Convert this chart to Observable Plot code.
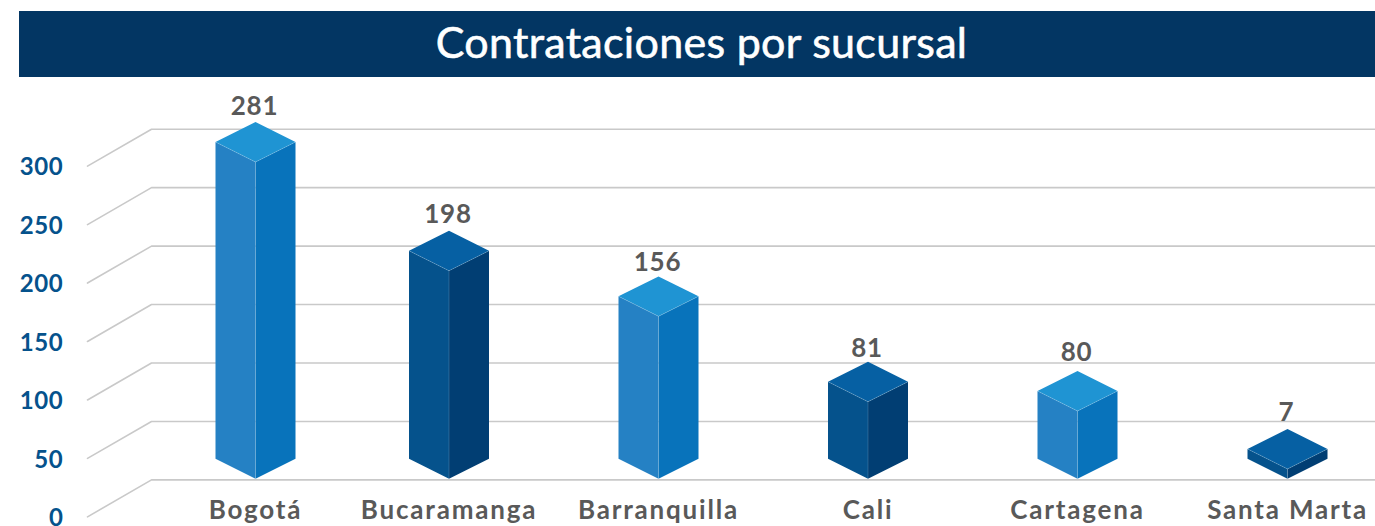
<!DOCTYPE html>
<html>
<head>
<meta charset="utf-8">
<script src="https://cdn.jsdelivr.net/npm/d3@7"></script>
<script src="https://cdn.jsdelivr.net/npm/@observablehq/plot@0.6"></script>
<style>
html,body{margin:0;padding:0;background:#fff;overflow:hidden;width:1375px;height:526px}
#banner{margin:11px 0 0 19px;height:66px;background:#033663;color:#fff;font:400 43px/62px Lato,sans-serif;letter-spacing:0.3px;-webkit-text-stroke:0.6px #fff;text-align:center;box-sizing:border-box;padding-left:9px}
.cat text{letter-spacing:1.8px}
.tick text{letter-spacing:0.7px}
.val text{letter-spacing:0.8px}
</style>
</head>
<body>
<div id="banner">Contrataciones por sucursal</div>
<div id="chart"></div>
<script>
// Data
const title = "Contrataciones por sucursal";
const categories = ["Bogotá","Bucaramanga","Barranquilla","Cali","Cartagena","Santa Marta"];
const labels = [281,198,156,81,80,7];
// height of each bar's top on the axis (the drawing does not follow the printed labels exactly)
const barTops = [289,196,157,84,76,26.5];
// level of each printed label on the axis
const labelLevels = [319,226.8,185.7,112.2,108.8,57.5];
const yTicks = [0,50,100,150,200,250,300];
const shade = ["light","dark","light","dark","light","dark"];

// Pseudo-3D construction, in scale units
const w = 0.2, edgeX = -1, backX = -0.68, endX = 5.5;
const depth = 31.6, half = 17.1, base = 18;
const palette = {
  light:{left:"#2581c4",right:"#0873bb",top:"#1f94d3"},
  dark:{left:"#05528c",right:"#013e73",top:"#0660a3"}
};

// Piecewise x scale: every bar is 2w wide, at the spacing of the reference
const centres = [255,448.5,658,867.5,1077,1287];
const xDomain = [edgeX, backX, ...categories.flatMap((_,i)=>[i-w,i+w]), endX];
const xRange = [87,151, ...centres.flatMap(c=>[c-40,c+40]), 1375];

const bars = categories.map((name,i)=>({name,i,top:barTops[i],label:labels[i],level:labelLevels[i],pal:palette[shade[i]]}));
const face = (f)=>bars.flatMap(b=>f(b).map(([x,y])=>({x,y,id:b.i})));
const withFill = (key,f)=>bars.flatMap(b=>f(b).map(([x,y])=>({x,y,id:b.i,fill:b.pal[key]})));

const leftFaces = withFill("left",b=>[[b.i-w,base],[b.i,base-half],[b.i,b.top-half],[b.i-w,b.top]]);
const rightFaces = withFill("right",b=>[[b.i+w,base],[b.i,base-half],[b.i,b.top-half],[b.i+w,b.top]]);
const topFaces = withFill("top",b=>[[b.i-w,b.top],[b.i,b.top+half],[b.i+w,b.top],[b.i,b.top-half]]);
const edges = face(b=>[[b.i-w,b.top],[b.i,b.top-half],[b.i+w,b.top]])
  .concat(face(b=>[[b.i,b.top-half],[b.i,base-half]]).map(d=>({...d,id:d.id+100})));
const grid = yTicks.flatMap(v=>[[edgeX,v-depth],[backX,v],[endX,v]].map(([x,y])=>({x,y,v})));

const polygon = (data)=>Plot.line(data,{x:"x",y:"y",z:"id",fill:"fill",stroke:"none",curve:"linear"});

const chart = Plot.plot({
  width:1375,height:449,
  marginTop:0,marginBottom:0,marginLeft:0,marginRight:0,
  style:{fontFamily:"Lato, sans-serif",background:"#fff"},
  x:{type:"linear",domain:xDomain,range:xRange,axis:null},
  y:{type:"linear",domain:[0,300],range:[402.4,51.7],axis:null},
  marks:[
    Plot.line(grid,{x:"x",y:"y",z:"v",stroke:"#c9c9c9",strokeWidth:1.6,curve:"linear"}),
    polygon(leftFaces),
    polygon(rightFaces),
    polygon(topFaces),
    Plot.line(edges,{x:"x",y:"y",z:"id",stroke:"#ffffff",strokeOpacity:0.2,strokeWidth:0.8,curve:"linear"}),
    Plot.text(yTicks,{x:()=>edgeX,y:d=>d,dx:-24,dy:38.5,text:d=>String(d),textAnchor:"end",fill:"#05528c",fontSize:24,fontWeight:700,className:"tick"}),
    Plot.text(bars,{x:"i",y:"level",dx:-1,text:d=>String(d.label),fill:"#595959",fontSize:26,fontWeight:700,className:"val"}),
    Plot.text(bars,{x:"i",frameAnchor:"bottom",dy:-8,text:"name",fill:"#595959",fontSize:26,fontWeight:700,className:"cat"})
  ]
});
document.getElementById("chart").appendChild(chart);
</script>
</body>
</html>
